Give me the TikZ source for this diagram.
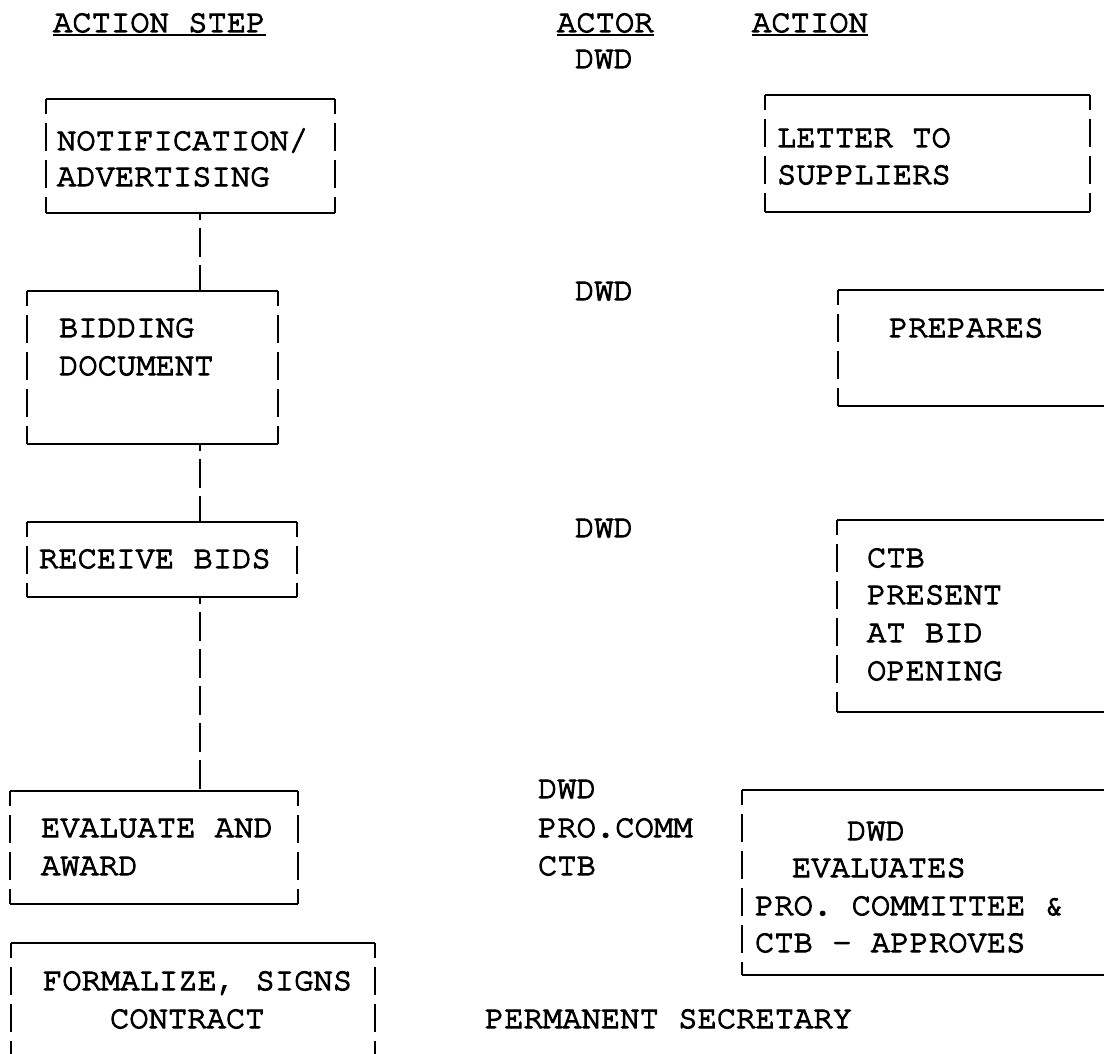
\documentclass[tikz,border=0pt]{standalone}
\usepackage{fontspec}
\newfontfamily\typewriter{texgyrecursor-regular.otf}[FakeBold=3.5]
\usetikzlibrary{calc}

\begin{document}
\begin{tikzpicture}[x=1pt,y=-1pt,
  txt/.style={inner sep=0pt, outer sep=0pt, anchor=base west,
    font=\typewriter\fontsize{32.2}{38}\selectfont},
  area/.style={inner sep=0pt, outer sep=0pt, anchor=north west, draw=none},
  hrule/.style={line width=2.4pt},
  vside/.style={line width=2.4pt, dash pattern=on 28pt off 9pt, dash phase=13pt},
  link/.style={line width=2.4pt, dash pattern=on 29pt off 8pt, dash phase=22pt}]

\useasboundingbox (0,0) rectangle (1104,1054);
\clip (0,0) rectangle (1104,1054);
\fill[white] (0,0) rectangle (1104,1054);

% column headings
\node[txt] (hstep)  at (53,32)  {ACTION STEP};
\node[txt] (hactor) at (557,32) {ACTOR};
\node[txt] (haction) at (752,32) {ACTION};
\foreach \h in {hstep,hactor,haction}
  \draw[line width=1.8pt] ([yshift=-3pt]\h.base west) -- ([yshift=-3pt]\h.base east);

% box frames (position, size)
\node[area, minimum width=289, minimum height=114] (L1) at (46,99) {};
\node[area, minimum width=251, minimum height=153] (L2) at (27,291) {};
\node[area, minimum width=270, minimum height=75]  (L3) at (27,522) {};
\node[area, minimum width=288, minimum height=113] (L4) at (10,791) {};
\node[area, minimum width=364, minimum height=119] (L5) at (11,943) {};
\node[area, minimum width=325, minimum height=117] (R1) at (765,95) {};
\node[area, minimum width=282, minimum height=116] (R2) at (838,290) {};
\node[area, minimum width=283, minimum height=192] (R3) at (837,520) {};
\node[area, minimum width=378, minimum height=185] (R4) at (742,790) {};

\foreach \b in {L1,L2,L3,L4,L5,R1,R2,R3,R4} {
  \draw[hrule] (\b.north west) -- (\b.north east);
  \draw[hrule] (\b.south west) -- (\b.south east);
  \draw[vside] (\b.north west) -- (\b.south west);
  \draw[vside] (\b.north east) -- (\b.south east);
}

% action steps
\node[txt] (l1a) at (57,150) {NOTIFICATION/};
\node[txt] (l1b) at (57,186) {ADVERTISING};
\node[txt] (l2a) at (59,337) {BIDDING};
\node[txt] (l2b) at (59,375) {DOCUMENT};
\node[txt] (l3a) at (39,568) {RECEIVE BIDS};
\node[txt] (l4a) at (41,837) {EVALUATE AND};
\node[txt] (l4b) at (41,875) {AWARD};
\node[txt] (l5a) at (43,990) {FORMALIZE, SIGNS};
\node[txt] (l5b) at (110,1028) {CONTRACT};

% actors
\node[txt] (a1) at (575,68)  {DWD};
\node[txt] (a2) at (575,300) {DWD};
\node[txt] (a3) at (575,537) {DWD};
\node[txt] (a4a) at (538,798) {DWD};
\node[txt] (a4b) at (538,837) {PRO.COMM};
\node[txt] (a4c) at (538,875) {CTB};
\node[txt] (a5) at (485,1028) {PERMANENT SECRETARY};

% actions
\node[txt] (r1a) at (777,147) {LETTER TO};
\node[txt] (r1b) at (777,184) {SUPPLIERS};
\node[txt] (r2a) at (889,337) {PREPARES};
\node[txt] (r3a) at (867,567) {CTB};
\node[txt] (r3b) at (867,604) {PRESENT};
\node[txt] (r3c) at (867,642) {AT BID};
\node[txt] (r3d) at (867,680) {OPENING};
\node[txt] (r4a) at (847,840) {DWD};
\node[txt] (r4b) at (792,877) {EVALUATES};
\node[txt] (r4c) at (755,915) {PRO. COMMITTEE \&};
\node[txt] (r4d) at (755,952) {CTB - APPROVES};

% dashed spine linking the steps
\coordinate (spine) at (200,0);
\draw[link] (L1.south -| spine) -- (L2.north -| spine);
\draw[link] (L2.south -| spine) -- (L3.north -| spine);
\draw[link] (L3.south -| spine) -- (L4.north -| spine);

\end{tikzpicture}
\end{document}
